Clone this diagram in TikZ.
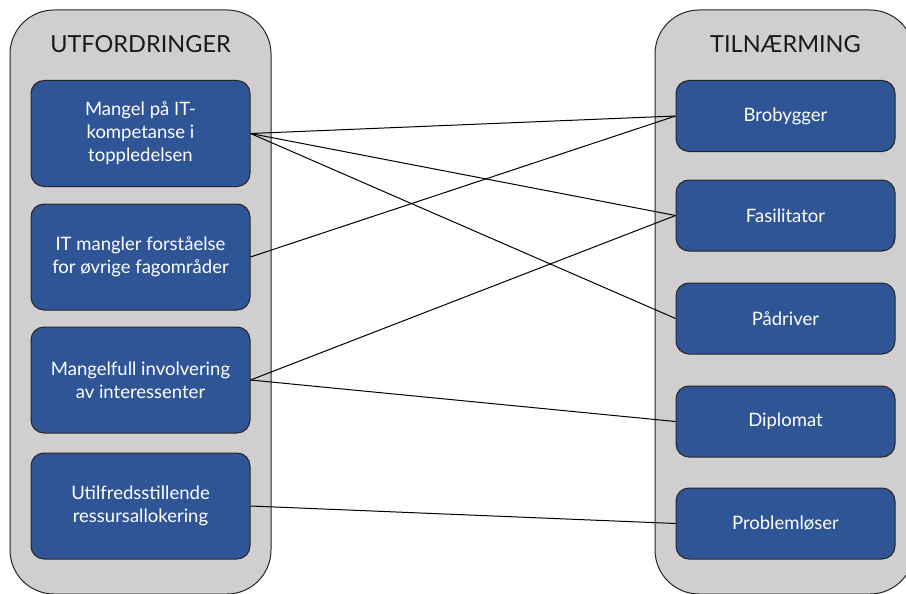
\documentclass[tikz,border=0pt]{standalone}
\usepackage{fontspec}
\setmainfont{Lato}
\definecolor{panelgray}{HTML}{D0CECE}
\definecolor{boxblue}{HTML}{2F5597}
\definecolor{edgedark}{HTML}{262626}
\begin{document}
\begin{tikzpicture}[x=1pt,y=-1pt,
  panel/.style={draw=edgedark,line width=1pt,fill=panelgray,rounded corners=44pt},
  title/.style={font=\fontsize{23.5}{27}\selectfont,text=black!90,anchor=center},
  leftbox/.style={draw=edgedark,line width=1pt,fill=boxblue,rounded corners=13pt,
    minimum width=219pt,minimum height=106pt,text=white,align=center,
    font=\fontsize{18.5}{23}\selectfont,inner sep=0pt},
  rightbox/.style={leftbox,minimum height=71pt},
  link/.style={draw=black,line width=1pt}]
\useasboundingbox (0,0) rectangle (906,594);
% background panels
\draw[panel] (10,10) rectangle (271,594);
\draw[panel] (655,10) rectangle (914,594);
\node[title] (tl) at (140.5,44) {UTFORDRINGER};
\node[title] (tr) at (785.5,44) {TILNÆRMING};
% challenges
\node[leftbox] (l1) at (140.5,133.5) {Mangel på IT-\\kompetanse i\\toppledelsen};
\node[leftbox] (l2) at (140.5,257) {IT mangler forståelse\\for øvrige fagområder};
\node[leftbox] (l3) at (140.5,380) {Mangelfull involvering\\av interessenter};
\node[leftbox] (l4) at (140.5,506) {Utilfredsstillende\\ressursallokering};
% approaches
\node[rightbox] (r1) at (785.5,116) {\raisebox{-2pt}{Brobygger}};
\node[rightbox] (r2) at (785.5,215.5) {\raisebox{-2pt}{Fasilitator}};
\node[rightbox] (r3) at (785.5,318.5) {\raisebox{-2pt}{Pådriver}};
\node[rightbox] (r4) at (785.5,421.5) {\raisebox{-2pt}{Diplomat}};
\node[rightbox] (r5) at (785.5,523.5) {\raisebox{-2pt}{Problemløser}};
% connections
\draw[link] (l1.east) -- (r1.west);
\draw[link] (l1.east) -- (r2.west);
\draw[link] (l1.east) -- (r3.west);
\draw[link] (l2.east) -- (r1.west);
\draw[link] (l3.east) -- (r2.west);
\draw[link] (l3.east) -- (r4.west);
\draw[link] (l4.east) -- (r5.west);
\end{tikzpicture}
\end{document}
